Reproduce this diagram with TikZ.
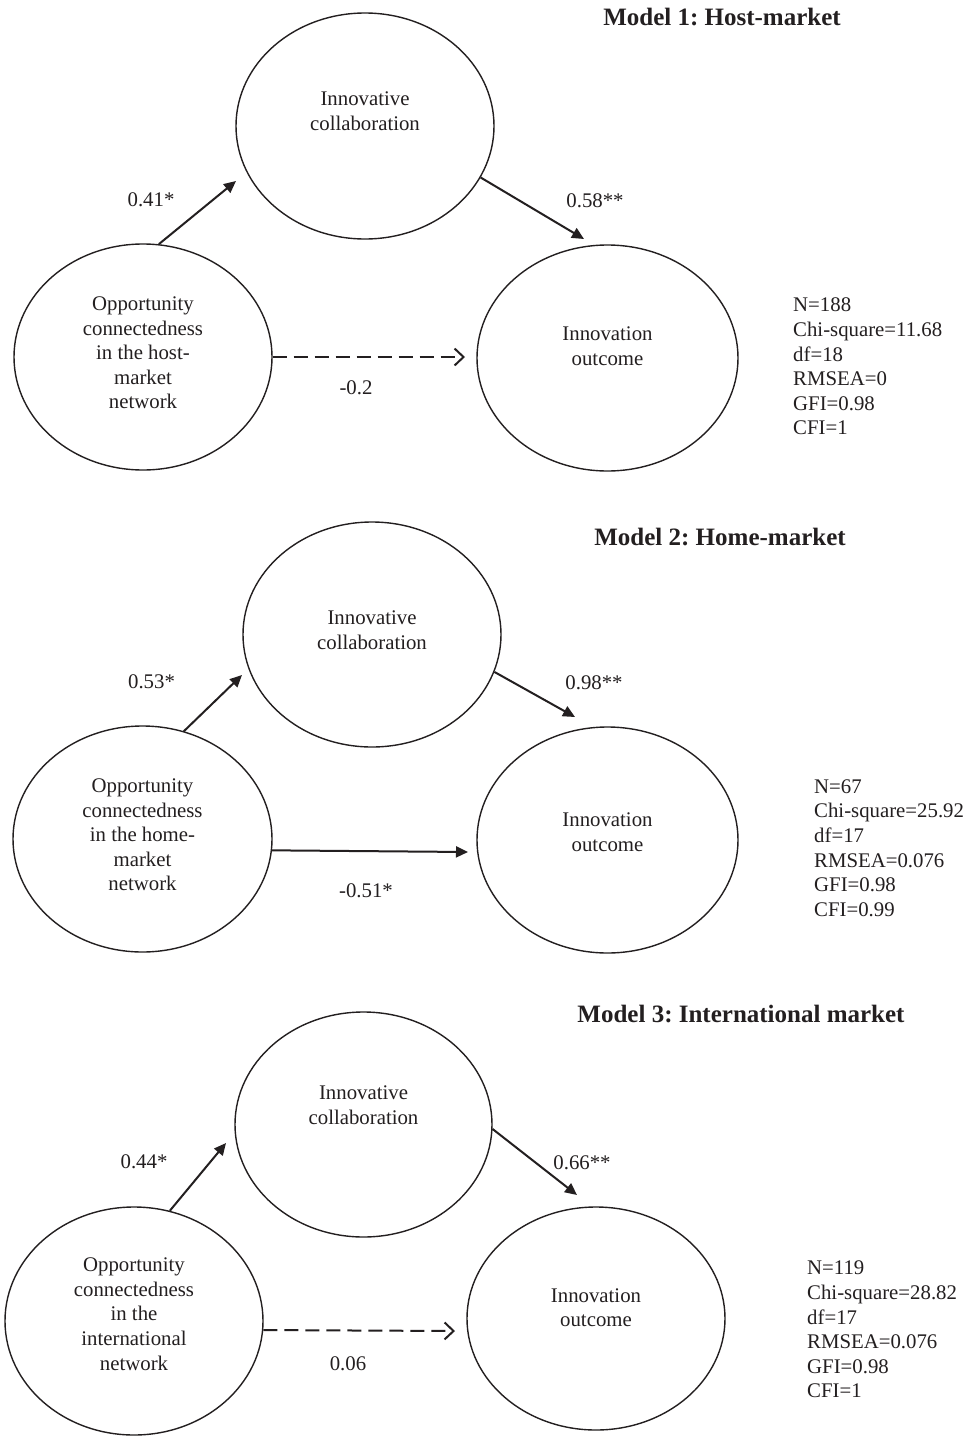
\documentclass[tikz,border=0pt]{standalone}
\usepackage{fontspec}
\setmainfont{Liberation Serif}
\usetikzlibrary{shapes.geometric,arrows.meta}
\definecolor{ink}{RGB}{35,31,32}
\frenchspacing
\begin{document}
\begin{tikzpicture}[x=1pt,y=-1pt,
  ell/.style={draw=ink,ellipse,inner sep=0pt,line width=1.4pt},
  txt/.style={font=\fontsize{20.8}{24.6}\selectfont,text=ink,align=center,inner sep=0pt},
  stat/.style={font=\fontsize{20.8}{24.6}\selectfont,text=ink,align=left,inner sep=0pt,anchor=west},
  ttl/.style={font=\fontsize{25}{30}\selectfont\bfseries,text=ink,inner sep=0pt},
  lbl/.style={font=\fontsize{20.8}{24.6}\selectfont,text=ink,inner sep=0pt},
  solidarrow/.style={draw=ink,line width=2pt,-{Triangle[length=12pt,width=11pt]}},
  dasharrow/.style={draw=ink,line width=2pt,dash pattern=on 14pt off 7pt,-{Straight Barb[length=9pt,width=17pt,line width=2pt]}}]

\fill[white] (0,0) rectangle (970,1438);
\useasboundingbox (0,0) rectangle (970,1438);

% ---------------- Model 1 ----------------
\node[ttl] (t1) at (722,17) {Model 1: Host-market};
\node[ell,minimum width=258pt,minimum height=226pt] (m1c) at (365,126) {};
\node[ell,minimum width=258pt,minimum height=226pt] (m1l) at (143,357) {};
\node[ell,minimum width=261pt,minimum height=226pt] (m1r) at (607.5,358) {};
\node[txt] (m1ct) at (365,111.5) {Innovative\\collaboration};
\node[txt] (m1lt) at (143,353) {Opportunity\\connectedness\\in the host-\\market\\network};
\node[txt] (m1rt) at (607.5,346.5) {Innovation\\outcome};
\coordinate (m1e1) at (236,181);
\coordinate (m1e2) at (584,239);
\coordinate (m1e3) at (465,357);
\draw[solidarrow] (m1l.82.9) -- (m1e1);
\draw[solidarrow] (m1c.-24.3) -- (m1e2);
\draw[dasharrow] (m1l.east) -- (m1e3);
\node[lbl] (m1a) at (151,200) {0.41*};
\node[lbl] (m1b) at (595,201) {0.58**};
\node[lbl] (m1d) at (356,388) {-0.2};
\node[stat] (m1s) at (793,366.5) {N=188\\Chi-square=11.68\\df=18\\RMSEA=0\\GFI=0.98\\CFI=1};

% ---------------- Model 2 ----------------
\node[ttl] (t2) at (720,537) {Model 2: Home-market};
\node[ell,minimum width=258pt,minimum height=225pt] (m2c) at (372,634.5) {};
\node[ell,minimum width=259pt,minimum height=226pt] (m2l) at (142.5,839) {};
\node[ell,minimum width=261pt,minimum height=226pt] (m2r) at (607.5,840) {};
\node[txt] (m2ct) at (372,630.5) {Innovative\\collaboration};
\node[txt] (m2lt) at (142.5,835) {Opportunity\\connectedness\\in the home-\\market\\network};
\node[txt] (m2rt) at (607.5,832) {Innovation\\outcome};
\coordinate (m2e1) at (242,675);
\coordinate (m2e2) at (575,717);
\coordinate (m2e3) at (468,852);
\draw[solidarrow] (m2l.69.4) -- (m2e1);
\draw[solidarrow] (m2c.-17.4) -- (m2e2);
\draw[solidarrow] (m2l.-5.7) -- (m2e3);
\node[lbl] (m2a) at (151.5,682) {0.53*};
\node[lbl] (m2b) at (594,683) {0.98**};
\node[lbl] (m2d) at (366,891) {-0.51*};
\node[stat] (m2s) at (814,848) {N=67\\Chi-square=25.92\\df=17\\RMSEA=0.076\\GFI=0.98\\CFI=0.99};

% ---------------- Model 3 ----------------
\node[ttl] (t3) at (741,1014) {Model 3: International market};
\node[ell,minimum width=257pt,minimum height=225pt] (m3c) at (363.5,1124.5) {};
\node[ell,minimum width=258pt,minimum height=228pt] (m3l) at (134,1321) {};
\node[ell,minimum width=258pt,minimum height=223pt] (m3r) at (596,1318.5) {};
\node[txt] (m3ct) at (363.5,1105.5) {Innovative\\collaboration};
\node[txt] (m3lt) at (134,1314) {Opportunity\\connectedness\\in the\\international\\network};
\node[txt] (m3rt) at (596,1307.5) {Innovation\\outcome};
\coordinate (m3e1) at (226,1143);
\coordinate (m3e2) at (577,1195);
\coordinate (m3e3) at (455,1331);
\draw[solidarrow] (m3l.72.5) -- (m3e1);
\draw[solidarrow] (m3c.-2) -- (m3e2);
\draw[dasharrow] (m3l.-4.4) -- (m3e3);
\node[lbl] (m3a) at (144,1162) {0.44*};
\node[lbl] (m3b) at (582,1163) {0.66**};
\node[lbl] (m3d) at (348,1364) {0.06};
\node[stat] (m3s) at (807,1329.5) {N=119\\Chi-square=28.82\\df=17\\RMSEA=0.076\\GFI=0.98\\CFI=1};
\end{tikzpicture}
\end{document}
